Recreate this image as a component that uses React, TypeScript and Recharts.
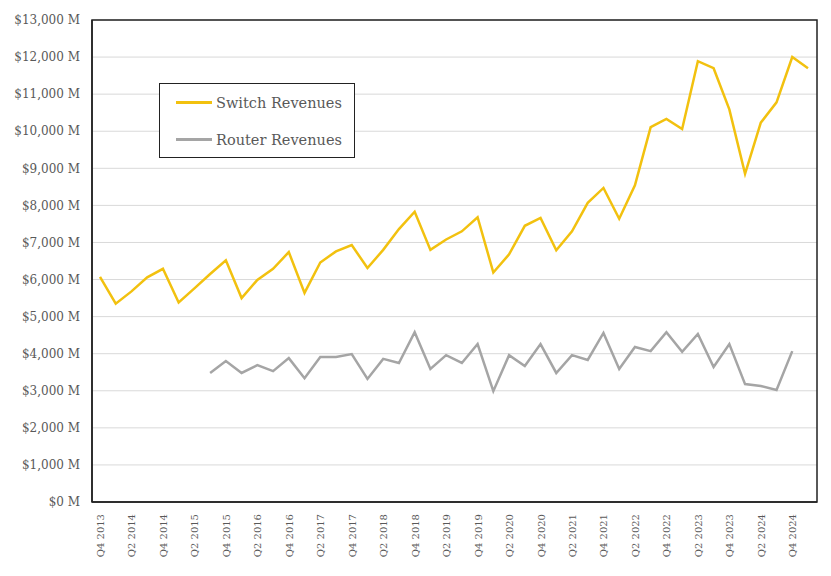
import React from 'react';
import { CartesianGrid, Legend, Line, LineChart, XAxis, YAxis, usePlotArea } from 'recharts';

const quarters = [
    'Q4 2013',
    'Q1 2014', 'Q2 2014', 'Q3 2014', 'Q4 2014',
    'Q1 2015', 'Q2 2015', 'Q3 2015', 'Q4 2015',
    'Q1 2016', 'Q2 2016', 'Q3 2016', 'Q4 2016',
    'Q1 2017', 'Q2 2017', 'Q3 2017', 'Q4 2017',
    'Q1 2018', 'Q2 2018', 'Q3 2018', 'Q4 2018',
    'Q1 2019', 'Q2 2019', 'Q3 2019', 'Q4 2019',
    'Q1 2020', 'Q2 2020', 'Q3 2020', 'Q4 2020',
    'Q1 2021', 'Q2 2021', 'Q3 2021', 'Q4 2021',
    'Q1 2022', 'Q2 2022', 'Q3 2022', 'Q4 2022',
    'Q1 2023', 'Q2 2023', 'Q3 2023', 'Q4 2023',
    'Q1 2024', 'Q2 2024', 'Q3 2024', 'Q4 2024',
    'Q1 2025',
];

// $M per quarter
const switchRevenues = [
    6070,
    5350, 5680, 6060, 6290,
    5380, 5760, 6150, 6520,
    5500, 5990, 6290, 6740,
    5640, 6460, 6760, 6930,
    6310, 6800, 7360, 7830,
    6800, 7080, 7300, 7680,
    6190, 6680, 7450, 7660,
    6790, 7300, 8070, 8470,
    7640, 8540, 10110, 10330,
    10060, 11890, 11700, 10590,
    8850, 10230, 10780, 12000,
    11700,
];

const routerRevenues = [
    null,
    null, null, null, null,
    null, null, 3480, 3800,
    3480, 3690, 3530, 3880,
    3340, 3910, 3910, 3990,
    3320, 3860, 3750, 4580,
    3590, 3960, 3750, 4260,
    2990, 3960, 3670, 4260,
    3480, 3960, 3830, 4560,
    3590, 4180, 4070, 4580,
    4050, 4530, 3640, 4260,
    3180, 3130, 3020, 4070,
    null,
];

const seriesNames = ['Switch Revenues', 'Router Revenues'];

const yTicks = [0, 1000, 2000, 3000, 4000, 5000, 6000, 7000, 8000, 9000, 10000, 11000, 12000, 13000];

const data = quarters.map((q, i) => ({
    quarter: q,
    switch: switchRevenues[i],
    router: routerRevenues[i],
}));

const FONT = '"DejaVu Serif", serif';
const TEXT = '#595959';

const XTick = ({ x, y, payload }: any) => (
    <g transform={`translate(${x},${y + 10})`}>
        <text
            transform="rotate(-90)"
            textAnchor="end"
            dy={4}
            fill={TEXT}
            fontSize={10}
            fontFamily={FONT}
        >
            {payload.value}
        </text>
    </g>
);

// box round the plot area (top and right edges too)
const PlotBorder = () => {
    const p = usePlotArea();
    if (!p) return null;
    return (
        <rect x={p.x} y={p.y} width={p.width} height={p.height} fill="none" stroke="#222" strokeWidth={1.5} />
    );
};

const LegendBox = ({ payload }: any) => {
    const items = [...(payload || [])].sort(
        (a: any, b: any) => seriesNames.indexOf(a.value) - seriesNames.indexOf(b.value)
    );
    return (
        <div
            style={{
                width: 196,
                height: 75,
                boxSizing: 'border-box',
                border: '1.5px solid #222',
                background: '#fff',
                padding: '0 0 0 16px',
                fontFamily: FONT,
                fontSize: 14.5,
                color: TEXT,
            }}
        >
            {items.map((p: any) => (
                <div key={p.value} style={{ display: 'flex', alignItems: 'center', height: 37 }}>
                    <span style={{ display: 'inline-block', width: 36, height: 3, background: p.color, marginRight: 4 }} />
                    {p.value}
                </div>
            ))}
        </div>
    );
};

const App: React.FC = () => {
    return (
        <div style={{ position: 'absolute', left: 0, top: 0, background: '#fff' }}>
            <LineChart width={831} height={576} data={data} margin={{ top: 20, right: 14, left: 0, bottom: 0 }}>
                <CartesianGrid vertical={false} stroke="#d9d9d9" strokeWidth={1} />
                <XAxis
                    dataKey="quarter"
                    interval={1}
                    height={74}
                    padding={{ left: 8, right: 9 }}
                    tickLine={false}
                    tickSize={0}
                    axisLine={{ stroke: '#222', strokeWidth: 1.5 }}
                    tick={<XTick />}
                />
                <YAxis
                    width={92}
                    domain={[0, 13000]}
                    ticks={yTicks}
                    interval={0}
                    tickLine={false}
                    tickSize={0}
                    tickMargin={12}
                    axisLine={{ stroke: '#222', strokeWidth: 1.5 }}
                    tick={{ fill: TEXT, fontSize: 12, fontFamily: FONT }}
                    tickFormatter={(v: number) => `$${v.toLocaleString('en-US')} M`}
                />
                <Legend
                    layout="vertical"
                    align="center"
                    verticalAlign="middle"
                    content={<LegendBox />}
                    wrapperStyle={{ left: 159, top: 83, width: 196, height: 75 }}
                />
                <Line
                    type="linear"
                    dataKey="switch"
                    name="Switch Revenues"
                    stroke="#F2C10F"
                    strokeWidth={2.5}
                    dot={false}
                    isAnimationActive={false}
                />
                <Line
                    type="linear"
                    dataKey="router"
                    name="Router Revenues"
                    stroke="#A5A5A5"
                    strokeWidth={2.5}
                    dot={false}
                    isAnimationActive={false}
                />
                <PlotBorder />
            </LineChart>
        </div>
    );
};

export default App;
